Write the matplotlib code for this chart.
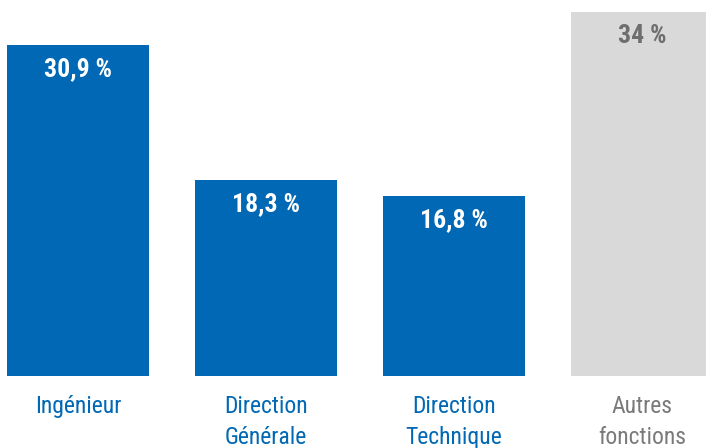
import matplotlib
matplotlib.use("Agg")
import matplotlib.pyplot as plt
from matplotlib import font_manager

# données
categories = ["Ingénieur", "Direction\nGénérale", "Direction\nTechnique", "Autres\nfonctions"]
valeurs = [30.9, 18.3, 16.8, 34]
etiquettes = ["30,9 %", "18,3 %", "16,8 %", "34 %"]

bleu = "#0068b4"
gris = "#d9d9d9"
gris_texte = "#6e6e6e"
couleurs = [bleu, bleu, bleu, gris]
couleurs_texte = ["white", "white", "white", gris_texte]
couleurs_cat = [bleu, bleu, bleu, "#7a7a7a"]

# police étroite si disponible
noms = {f.name for f in font_manager.fontManager.ttflist}
police = "DejaVu Sans"
for p in ["Roboto Condensed", "Liberation Sans Narrow", "Roboto", "Liberation Sans"]:
    if p in noms:
        police = p
        break
plt.rcParams["font.family"] = [police, "DejaVu Sans"]

fig = plt.figure(figsize=(7.06, 4.48), dpi=100, facecolor="white")
ax = fig.add_axes([0, 72 / 448, 1, 376 / 448])

x = range(len(categories))
ax.bar(x, valeurs, width=142 / 188, color=couleurs)
ax.set_xlim(-78 / 188, (706 - 78) / 188)
ax.set_ylim(0, 376 / 10.7)

for i, v in enumerate(valeurs):
    ax.annotate(etiquettes[i], (i, v), xytext=(0, -17), textcoords="offset points",
                ha="center", va="center", fontsize=18.5, fontweight="bold",
                color=couleurs_texte[i])

ax.set_xticks(list(x))
ax.set_xticklabels(categories, fontsize=17, linespacing=1.42)
for lab, c in zip(ax.get_xticklabels(), couleurs_cat):
    lab.set_color(c)
ax.tick_params(axis="x", length=0, pad=14)
ax.set_yticks([])
for s in ax.spines.values():
    s.set_visible(False)

plt.savefig("out.png", dpi=100, facecolor="white")
